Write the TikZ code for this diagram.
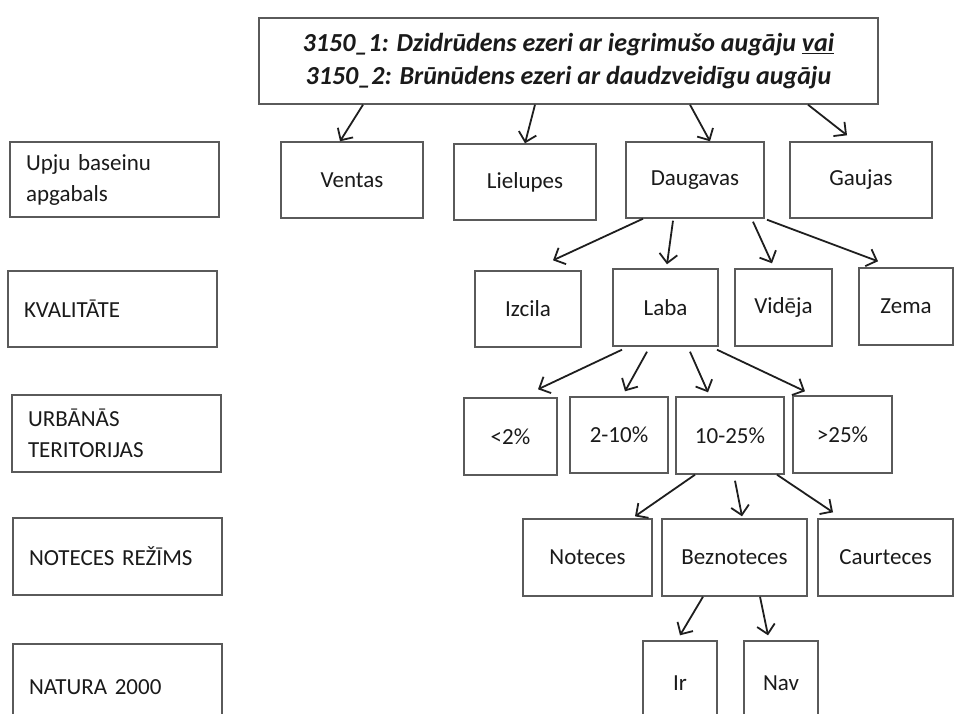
\documentclass[tikz,border=0pt]{standalone}
\usepackage{fontspec}
\setmainfont{Carlito}
\usetikzlibrary{arrows.meta}
\definecolor{boxgray}{HTML}{5A5A5A}
\definecolor{arrowc}{HTML}{1E1E1E}
\definecolor{txt}{HTML}{1A1A1A}
\begin{document}
\begin{tikzpicture}[x=1pt,y=-1pt,
  box/.style={draw=boxgray, line width=1.4pt, rectangle, inner sep=0pt, text=txt,
              font=\fontsize{23}{31}\selectfont},
  cat/.style={box, align=left, text width=177pt, inner xsep=16pt, minimum width=209pt},
  arr/.style={draw=arrowc, line width=1.8pt,
              -{Straight Barb[length=9pt,width=18pt,line width=1.8pt]}}]
\clip (0,0) rectangle (955,713);

% heading
\node[box, minimum width=619pt, minimum height=86pt, align=center,
      font=\fontsize{26}{33}\selectfont\bfseries\itshape] (title) at (568.5,61)
  {3150\_1: Dzidrūdens ezeri ar iegrimušo augāju \underline{vai}\\
   3150\_2: Brūnūdens ezeri ar daudzveidīgu augāju};

% category column
\node[cat, minimum height=75pt] (c1) at (114.5,179.5) {Upju baseinu\\apgabals};
\node[cat, minimum height=76pt] (c2) at (112.5,309) {KVALITĀTE};
\node[cat, minimum height=77pt] (c3) at (116.5,433.5) {URBĀNĀS\\TERITORIJAS};
\node[cat, minimum height=77pt] (c4) at (117.5,556.5) {NOTECES REŽĪMS};
\node[cat, minimum height=86pt] (c5) at (117.5,687) {NATURA 2000};

% river basins
\node[box, minimum width=142pt, minimum height=76pt] (ventas)   at (352,180)   {Ventas};
\node[box, minimum width=142pt, minimum height=76pt] (lielupes) at (525,182)   {Lielupes};
\node[box, minimum width=138pt, minimum height=76pt] (daugavas) at (695,180)   {Daugavas};
\node[box, minimum width=142pt, minimum height=76pt] (gaujas)   at (861,180)   {Gaujas};

% quality
\node[box, minimum width=106pt, minimum height=76pt] (izcila) at (528,309)     {Izcila};
\node[box, minimum width=105pt, minimum height=77pt] (laba)   at (665.5,307.5) {Laba};
\node[box, minimum width=97pt,  minimum height=77pt] (videja) at (783.5,307.5) {Vidēja};
\node[box, minimum width=94pt,  minimum height=77pt] (zema)   at (906,306.5)   {Zema};

% urban share
\node[box, minimum width=93pt,  minimum height=77pt] (lt2)   at (510.5,436.5) {<2\%};
\node[box, minimum width=98pt,  minimum height=76pt] (r210)  at (619,435)     {2-10\%};
\node[box, minimum width=108pt, minimum height=77pt] (r1025) at (730,435.5)   {10-25\%};
\node[box, minimum width=99pt,  minimum height=77pt] (gt25)  at (842.5,434.5) {>25\%};

% runoff regime
\node[box, minimum width=129pt, minimum height=77pt] (noteces) at (587.5,557.5) {Noteces};
\node[box, minimum width=145pt, minimum height=77pt] (bezn)    at (734.5,557.5) {Beznoteces};
\node[box, minimum width=135pt, minimum height=77pt] (caur)    at (885.5,557.5) {Caurteces};

% Natura 2000
\node[box, minimum width=74pt, minimum height=84pt] (ir)  at (680,683) {Ir};
\node[box, minimum width=74pt, minimum height=84pt] (nav) at (781,683) {Nav};

% connectors
\draw[arr] ([xshift=-205.5pt]title.south) -- ([xshift=-12pt]ventas.north);
\draw[arr] ([xshift=-33.5pt]title.south)  -- ([xshift=0pt]lielupes.north);
\draw[arr] ([xshift=121.5pt]title.south)  -- ([xshift=15pt]daugavas.north);
\draw[arr] ([xshift=239.5pt]title.south)  -- ([xshift=-14pt,yshift=6pt]gaujas.north);

\draw[arr] ([xshift=-52pt]daugavas.south) -- ([xshift=25pt,yshift=10pt]izcila.north);
\draw[arr] ([xshift=-22pt,yshift=-2pt]daugavas.south) -- ([xshift=1.5pt,yshift=4pt]laba.north);
\draw[arr] ([xshift=58pt,yshift=-3pt]daugavas.south)  -- ([xshift=-11.5pt,yshift=5pt]videja.north);
\draw[arr] ([xshift=72pt,yshift=-1pt]daugavas.south)  -- ([xshift=-28pt,yshift=6pt]zema.north);

\draw[arr] ([xshift=-43.5pt,yshift=-3pt]laba.south) -- ([xshift=27.5pt,yshift=8pt]lt2.north);
\draw[arr] ([xshift=-18.5pt,yshift=-5pt]laba.south) -- ([xshift=6pt,yshift=5pt]r210.north);
\draw[arr] ([xshift=24.5pt,yshift=-5pt]laba.south)  -- ([xshift=-22pt,yshift=4pt]r1025.north);
\draw[arr] ([xshift=51.5pt,yshift=-3pt]laba.south)  -- ([xshift=-37.5pt,yshift=4pt]gt25.north);

\draw[arr] ([xshift=-35pt]r1025.south)           -- ([xshift=47.5pt,yshift=2pt]noteces.north);
\draw[arr] ([xshift=5pt,yshift=-6pt]r1025.south) -- ([xshift=7.5pt,yshift=2pt]bezn.north);
\draw[arr] ([xshift=47pt]r1025.south)            -- ([xshift=-52.5pt,yshift=6pt]caur.north);

\draw[arr] ([xshift=-31.5pt]bezn.south) -- ([xshift=0pt,yshift=5pt]ir.north);
\draw[arr] ([xshift=25.5pt]bezn.south)  -- ([xshift=-13pt,yshift=5pt]nav.north);
\end{tikzpicture}
\end{document}
